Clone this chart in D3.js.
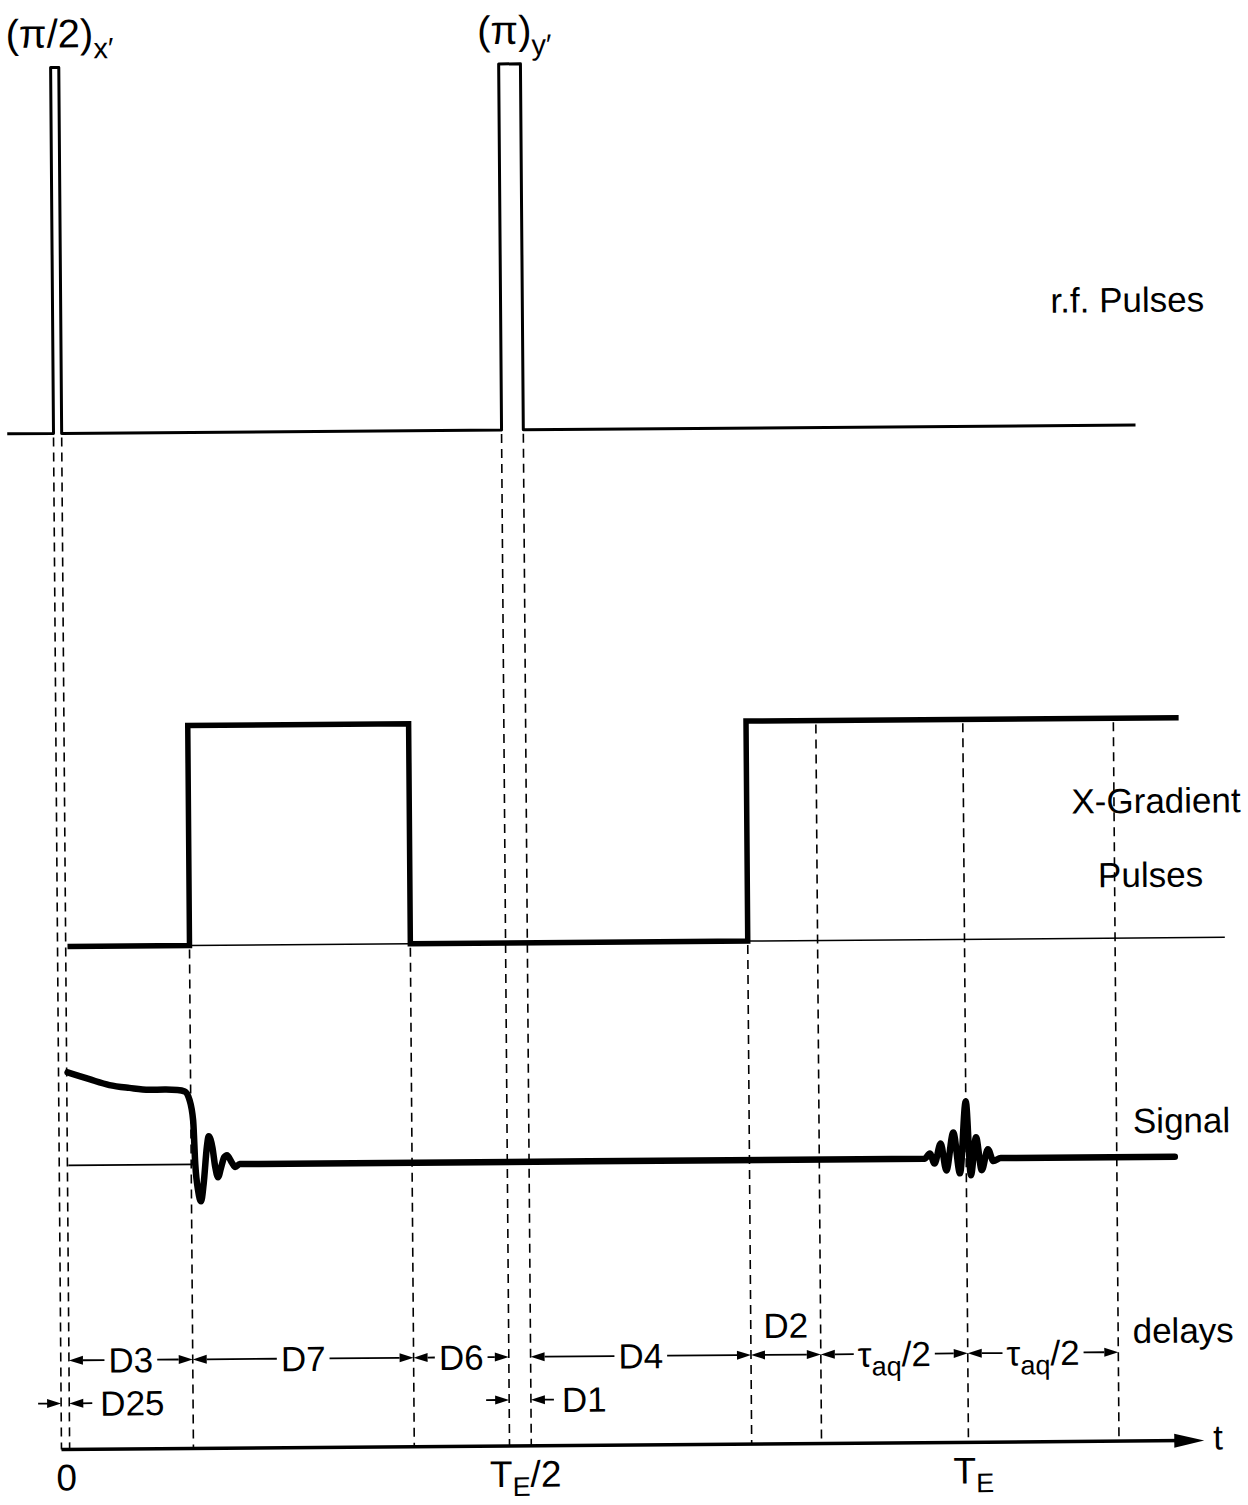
<!DOCTYPE html>
<html>
<head>
<meta charset="utf-8">
<script src="https://cdn.jsdelivr.net/npm/d3@7"></script>
<style>
  html, body { margin: 0; padding: 0; background: #fff; }
  svg { display: block; }
  text { font-family: "Liberation Sans", Arial, Helvetica, sans-serif; fill: #000; }
</style>
</head>
<body>
<svg id="chart" width="1248" height="1505"></svg>
<script>
// ---- Spin-echo sequence timing (arbitrary time units, T_E = 100) ----

// r.f. pulses: label, subscript (phase axis), start and end time
const rfPulses = [
  { name: "(π/2)", sub: "x′", start: 0, end: 0.9 },
  { name: "(π)", sub: "y′", start: 49.4, end: 51.8 }
];
const rfSpan = [-5.1, 119.3];

// X-gradient: level switches (0 = off, 1 = on)
const gradientSteps = [
  { t: 1.1, g: 0 }, { t: 14.55, g: 1 }, { t: 38.9, g: 0 }, { t: 76.1, g: 1 }, { t: 123.8, g: 1 }
];
const gradientBaselineEnd = 128.7;

// Free induction decay after the 90° pulse, then the gradient-dephased tail: [time, amplitude]
const fidTrace = [
  [1.0, 0.93], [3.4, 0.86], [5.6, 0.80], [7.8, 0.77], [10.0, 0.75], [11.7, 0.75],
  [13.1, 0.745], [13.9, 0.73], [14.4, 0.65], [14.8, 0.44], [15.0, 0.0], [15.3, -0.27],
  [15.6, -0.37], [15.9, -0.20], [16.3, 0.18], [16.5, 0.28], [16.9, 0.17], [17.2, -0.03],
  [17.5, -0.13], [17.85, -0.03], [18.2, 0.07], [18.5, 0.09], [19.0, 0.02], [19.4, -0.03],
  [19.9, 0.0], [22.0, 0.0]
];

// Gradient echo centred on T_E: [time, amplitude]
const echoTrace = [
  [95.4, 0.0], [96.0, 0.05], [96.5, -0.05], [97.2, 0.15], [97.8, -0.12], [98.6, 0.26],
  [99.3, -0.15], [100.0, 0.57], [100.5, -0.17], [101.1, 0.21], [101.7, -0.12],
  [102.4, 0.09], [103.0, -0.03], [103.8, 0.0], [123.0, 0.0]
];
const signalRefEnd = 15.0;

// Timing guides: time and the trace level they hang from
const guides = [
  { t: 0, from: "rf" }, { t: 0.9, from: "rf" }, { t: 14.55, from: "gradOff" },
  { t: 38.9, from: "gradOff" }, { t: 49.4, from: "rf" }, { t: 51.8, from: "rf" },
  { t: 76.1, from: "gradOff" }, { t: 83.8, from: "gradOn" }, { t: 100, from: "gradOn" },
  { t: 116.6, from: "gradOn" }
];

// Delay annotations
const delaysInline = [
  { label: "D3", from: 0.9, to: 14.55 },
  { label: "D7", from: 14.55, to: 38.9 },
  { label: "D6", from: 38.9, to: 49.4 },
  { label: "D4", from: 51.8, to: 76.1 },
  { label: "τ_{aq}/2", from: 83.8, to: 100 },
  { label: "τ_{aq}/2", from: 100, to: 116.6 }
];
const delaysAbove = [{ label: "D2", from: 76.1, to: 83.8 }];
const delaysOutside = [
  { label: "D25", from: 0, to: 0.9 },
  { label: "D1", from: 49.4, to: 51.8 }
];

// Time-axis labels
const timeTicks = [
  { t: 0, label: "0" },
  { t: 50.6, label: "T_{E}/2" },
  { t: 100, label: "T_{E}" }
];
const axisEnd = 126.0;

// Channel names
const channelNames = ["r.f. Pulses", "X-Gradient", "Pulses", "Signal", "delays"];

// ---- Layout ----
const svg = d3.select("#chart");
const root = svg.append("g").attr("transform", "rotate(-0.45,624,750)");

const x = d3.scaleLinear().domain([0, 100]).range([56, 963]);
const yRF = d3.scaleLinear().domain([0, 1]).range([429, 63]);
const yGrad = d3.scaleLinear().domain([0, 1]).range([942, 722]);
const ySig = d3.scaleLinear().domain([-1, 1]).range([1261, 1061]);
const axisY = 1445;
const rowInline = 1356, rowOutside = 1399;
const FS = 35, SUB = 27;

// rich text: "_{...}" marks a subscript
function rich(textSel, str, size, subSize, subDy) {
  textSel.attr("font-size", size);
  const parts = str.split(/(_\{[^}]*\})/).filter(s => s.length);
  let shifted = false;
  parts.forEach(p => {
    const m = p.match(/^_\{(.*)\}$/);
    if (m) {
      textSel.append("tspan").attr("font-size", subSize).attr("dy", subDy).text(m[1]);
      shifted = true;
    } else {
      const t = textSel.append("tspan").text(p);
      if (shifted) { t.attr("dy", -subDy); shifted = false; }
    }
  });
  return textSel;
}

// filled arrowhead with its tip at (tx, ty), pointing in direction dir (+1 right, -1 left)
function arrowHead(sel, tx, ty, dir, len = 14, hw = 4.5) {
  sel.append("path")
    .attr("d", `M${tx},${ty} L${tx - dir * len},${ty - hw} L${tx - dir * len},${ty + hw} Z`)
    .attr("fill", "#000");
}

// ---- Dashed timing guides ----
const guideTop = { rf: yRF(0) + 4, gradOff: yGrad(0) + 4, gradOn: yGrad(1) + 4 };
root.append("g").selectAll("line").data(guides).join("line")
  .attr("x1", d => x(d.t)).attr("x2", d => x(d.t))
  .attr("y1", d => guideTop[d.from]).attr("y2", axisY)
  .attr("stroke", "#000").attr("stroke-width", 1.6)
  .attr("stroke-dasharray", "9,6");

// ---- r.f. pulse train ----
const rfPoints = [[rfSpan[0], 0]];
rfPulses.forEach(p => { rfPoints.push([p.start, 0], [p.start, 1], [p.end, 1], [p.end, 0]); });
rfPoints.push([rfSpan[1], 0]);
root.append("path")
  .attr("d", d3.line().x(d => x(d[0])).y(d => yRF(d[1]))(rfPoints))
  .attr("fill", "none").attr("stroke", "#000").attr("stroke-width", 3)
  .attr("stroke-linejoin", "round");

rfPulses.forEach(p => {
  const cx = (x(p.start) + x(p.end)) / 2 - 5;
  const t = root.append("text").attr("y", 43).attr("font-size", 40);
  const main = t.append("tspan").text(p.name);
  const w = main.node().getComputedTextLength();
  t.attr("x", cx - w / 2);
  t.append("tspan").attr("font-size", 29).attr("dy", 11).text(p.sub);
});

// ---- X gradient ----
const gradLine = d3.line().x(d => x(d.t)).y(d => yGrad(d.g)).curve(d3.curveStepAfter);
root.append("path")
  .attr("d", gradLine(gradientSteps))
  .attr("fill", "none").attr("stroke", "#000").attr("stroke-width", 5.5)
  .attr("stroke-linejoin", "miter");

// thin zero line under each gradient lobe
const lobes = [];
gradientSteps.forEach((s, i) => {
  if (s.g === 1 && i < gradientSteps.length - 1 && gradientSteps[i + 1].g === 0) lobes.push([s.t, gradientSteps[i + 1].t]);
  if (s.g === 1 && (i === 0 || gradientSteps[i - 1].g === 0) && gradientSteps.slice(i + 1).every(q => q.g === 1)) lobes.push([s.t, gradientBaselineEnd]);
});
root.append("g").selectAll("line").data(lobes).join("line")
  .attr("x1", d => x(d[0])).attr("x2", d => x(d[1]))
  .attr("y1", yGrad(0)).attr("y2", yGrad(0))
  .attr("stroke", "#000").attr("stroke-width", 1.5);

// ---- Signal ----
root.append("line")
  .attr("x1", x(fidTrace[0][0])).attr("x2", x(signalRefEnd))
  .attr("y1", ySig(0)).attr("y2", ySig(0))
  .attr("stroke", "#000").attr("stroke-width", 1.6);

root.append("path")
  .attr("d", d3.line().x(d => x(d[0])).y(d => ySig(d[1])).curve(d3.curveMonotoneX)(fidTrace.concat(echoTrace)))
  .attr("fill", "none").attr("stroke", "#000").attr("stroke-width", 6.5)
  .attr("stroke-linejoin", "round").attr("stroke-linecap", "round");

// ---- Delay annotations ----
const dl = root.append("g");
delaysInline.forEach(d => {
  const a = x(d.from), b = x(d.to), mid = (a + b) / 2;
  const t = rich(dl.append("text").attr("text-anchor", "start").attr("y", rowInline + 12.5), d.label, FS, SUB, 9);
  const w = t.node().getComputedTextLength();
  t.attr("x", mid - w / 2);
  const gap = 4, L = 14;
  arrowHead(dl, a, rowInline, -1, L);
  arrowHead(dl, b, rowInline, 1, L);
  if (mid - w / 2 - gap > a + L)
    dl.append("line").attr("x1", a + L).attr("x2", mid - w / 2 - gap)
      .attr("y1", rowInline).attr("y2", rowInline).attr("stroke", "#000").attr("stroke-width", 1.8);
  if (b - L > mid + w / 2 + gap)
    dl.append("line").attr("x1", mid + w / 2 + gap).attr("x2", b - L)
      .attr("y1", rowInline).attr("y2", rowInline).attr("stroke", "#000").attr("stroke-width", 1.8);
});

delaysAbove.forEach(d => {
  const a = x(d.from), b = x(d.to), mid = (a + b) / 2;
  dl.append("text").attr("text-anchor", "middle").attr("x", mid).attr("y", rowInline - 17)
    .attr("font-size", FS).text(d.label);
  arrowHead(dl, a, rowInline, -1);
  arrowHead(dl, b, rowInline, 1);
  dl.append("line").attr("x1", a + 14).attr("x2", b - 14)
    .attr("y1", rowInline).attr("y2", rowInline).attr("stroke", "#000").attr("stroke-width", 1.8);
});

delaysOutside.forEach(d => {
  const a = x(d.from), b = x(d.to), tail = 23;
  arrowHead(dl, a, rowOutside, 1);
  dl.append("line").attr("x1", a - tail).attr("x2", a - 12)
    .attr("y1", rowOutside).attr("y2", rowOutside).attr("stroke", "#000").attr("stroke-width", 1.8);
  arrowHead(dl, b, rowOutside, -1);
  dl.append("line").attr("x1", b + 12).attr("x2", b + tail)
    .attr("y1", rowOutside).attr("y2", rowOutside).attr("stroke", "#000").attr("stroke-width", 1.8);
  dl.append("text").attr("x", b + tail + 8).attr("y", rowOutside + 12.5)
    .attr("font-size", FS).text(d.label);
});

// ---- Time axis ----
root.append("line")
  .attr("x1", x(0)).attr("x2", x(axisEnd) - 20)
  .attr("y1", axisY).attr("y2", axisY)
  .attr("stroke", "#000").attr("stroke-width", 3.5);
arrowHead(root, x(axisEnd), axisY, 1, 30, 7);
root.append("text").attr("x", x(axisEnd) + 9).attr("y", axisY + 9)
  .attr("font-size", FS).text("t");

timeTicks.forEach(d => {
  const t = rich(root.append("text").attr("y", 1486), d.label, 37, 27, 9);
  const w = t.node().getComputedTextLength();
  t.attr("x", x(d.t) + 5 - w / 2);
});

// ---- Channel names ----
const namePos = [[1054, 316], [1071, 817], [1097, 891], [1130, 1137], [1128, 1347]];
channelNames.forEach((n, i) => {
  root.append("text").attr("x", namePos[i][0]).attr("y", namePos[i][1])
    .attr("font-size", FS).text(n);
});
</script>
</body>
</html>
